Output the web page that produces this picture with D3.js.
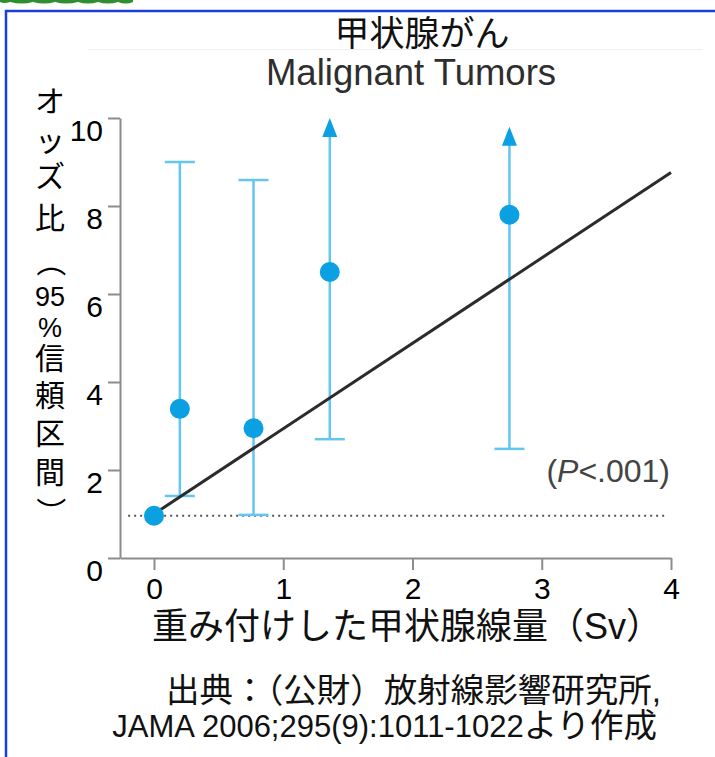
<!DOCTYPE html>
<html>
<head>
<meta charset="utf-8">
<script src="https://cdn.jsdelivr.net/npm/d3@7"></script>
<style>
    body { margin: 0; background: #fff; }
    svg { display: block; }
    text { font-family: "Liberation Sans", Arial, "Noto Sans CJK JP", sans-serif; }
</style>
</head>
<body>
<div id="chart"></div>
<script>
// data
var doses = [0, 0.2, 0.77, 1.36, 2.75];          // weighted thyroid dose (Sv)
var oddsRatios = [0.96, 3.39, 2.95, 6.5, 7.8];
var ciLower = [null, 1.41, 0.98, 2.7, 2.48];
var ciUpper = [null, 9.0, 8.59, 10.0, 9.8];
var ciOpen = [false, false, false, true, true];  // upper bound beyond the plot -> arrow
var fitDose = [0, 4];
var fitOdds = [1.0, 8.76];
var referenceOdds = 0.96;
var xTicks = [0, 1, 2, 3, 4];
var yTicks = [0, 2, 4, 6, 8, 10];
var yLabelChars = ["オ", "ッ", "ズ", "比", "（", "95", "%", "信", "頼", "区", "間", "）"];
var yLabelRows = [101, 140, 176, 218, 262, 297, 328, 358, 395, 433, 472, 512];

var width = 715, height = 757;
var blueDot = "#0aa0e2", blueBar = "#62c6ee", axisGray = "#8c8c8c";

var svg = d3.select("#chart").append("svg")
    .attr("width", width)
    .attr("height", height);

// frame
svg.append("path")
    .attr("d", "M0,0 L133,0 L133,2 Q126,5 118,2 Q108,5 98,2 Q88,5 78,2 Q66,5 55,2 Q44,5 33,2 Q22,5 10,2 Q4,4 0,2 Z")
    .attr("fill", "#2f8f2f");
svg.append("path")
    .attr("d", "M6,757 L6,11 L715,11")
    .attr("fill", "none")
    .attr("stroke", "#1a3fd6")
    .attr("stroke-width", 2.5);
svg.append("line")
    .attr("x1", 88).attr("x2", 703)
    .attr("y1", 49.5).attr("y2", 49.5)
    .attr("stroke", "#efefef");

// titles
svg.append("text")
    .attr("x", 422).attr("y", 46)
    .attr("text-anchor", "middle")
    .attr("font-size", 35)
    .attr("fill", "#111")
    .text("甲状腺がん");
svg.append("text")
    .attr("x", 411).attr("y", 85)
    .attr("text-anchor", "middle")
    .attr("font-size", 36.5)
    .attr("fill", "#2e2e2e")
    .text("Malignant Tumors");

var x = d3.scaleLinear().domain([-0.263, 4]).range([120, 671]);
var y = d3.scaleLinear().domain([0, 10]).range([558, 118]);

// axes
var xAxis = svg.append("g")
    .attr("transform", "translate(0," + y(0) + ")")
    .call(d3.axisBottom(x).tickValues(xTicks).tickFormat(d3.format("d"))
        .tickSize(12).tickSizeOuter(0).tickPadding(8));
var yAxis = svg.append("g")
    .attr("transform", "translate(" + x.range()[0] + ",0)")
    .call(d3.axisLeft(y).tickValues(yTicks).tickFormat(d3.format("d"))
        .tickSize(12).tickSizeOuter(0).tickPadding(5));

[xAxis, yAxis].forEach(function (ax) {
    ax.select(".domain").attr("stroke", axisGray).attr("stroke-width", 2);
    ax.selectAll(".tick line").attr("stroke", axisGray).attr("stroke-width", 2);
    ax.selectAll(".tick text")
        .attr("fill", "#000")
        .attr("font-size", 30)
        .style("font-family", "'Liberation Sans', Arial, sans-serif");
});
yAxis.selectAll(".tick text").attr("dy", "0.74em");

// reference line at OR = 1
svg.append("line")
    .attr("x1", x(-0.2)).attr("x2", x(3.97))
    .attr("y1", y(referenceOdds)).attr("y2", y(referenceOdds))
    .attr("stroke", "#555")
    .attr("stroke-width", 2)
    .attr("stroke-dasharray", "2,4");

svg.append("text")
    .attr("x", 670).attr("y", 482)
    .attr("text-anchor", "end")
    .attr("font-size", 32)
    .attr("fill", "#444")
    .call(function (t) {
        t.append("tspan").text("(");
        t.append("tspan").attr("font-style", "italic").text("P");
        t.append("tspan").text("<.001)");
    });

// error bars
var points = doses.map(function (d, i) {
    return {dose: d, or: oddsRatios[i], lo: ciLower[i], hi: ciUpper[i], open: ciOpen[i]};
});
var bars = svg.append("g").attr("class", "error-bars")
    .selectAll("g").data(points.filter(function (d) { return d.lo != null; }))
    .enter().append("g");

bars.append("line")
    .attr("x1", function (d) { return x(d.dose); })
    .attr("x2", function (d) { return x(d.dose); })
    .attr("y1", function (d) { return y(d.lo); })
    .attr("y2", function (d) { return d.open ? y(d.hi) + 18 : y(d.hi); })
    .attr("stroke", blueBar)
    .attr("stroke-width", 2.5);
bars.append("line")
    .attr("x1", function (d) { return x(d.dose) - 15; })
    .attr("x2", function (d) { return x(d.dose) + 15; })
    .attr("y1", function (d) { return y(d.lo); })
    .attr("y2", function (d) { return y(d.lo); })
    .attr("stroke", blueBar)
    .attr("stroke-width", 2.5);
bars.filter(function (d) { return !d.open; }).append("line")
    .attr("x1", function (d) { return x(d.dose) - 15; })
    .attr("x2", function (d) { return x(d.dose) + 15; })
    .attr("y1", function (d) { return y(d.hi); })
    .attr("y2", function (d) { return y(d.hi); })
    .attr("stroke", blueBar)
    .attr("stroke-width", 2.5);
bars.filter(function (d) { return d.open; }).append("path")
    .attr("d", function (d) {
        var cx = x(d.dose), ty = y(d.hi);
        return "M" + cx + "," + ty + " L" + (cx + 7.5) + "," + (ty + 19) + " L" + (cx - 7.5) + "," + (ty + 19) + " Z";
    })
    .attr("fill", blueDot);

// fitted linear trend
var line = d3.line()
    .x(function (d) { return x(d[0]); })
    .y(function (d) { return y(d[1]); });
svg.append("path")
    .attr("d", line(fitDose.map(function (d, i) { return [d, fitOdds[i]]; })))
    .attr("fill", "none")
    .attr("stroke", "#2b2b2b")
    .attr("stroke-width", 3);

// point estimates
svg.append("g").selectAll("circle").data(points)
    .enter().append("circle")
    .attr("cx", function (d) { return x(d.dose); })
    .attr("cy", function (d) { return y(d.or); })
    .attr("r", 10)
    .attr("fill", blueDot);

// axis title, stacked vertically; the full-width brackets are turned a quarter
var yLabel = svg.append("g").attr("class", "y-title");
yLabelChars.forEach(function (c, i) {
    var bracket = c === "（" || c === "）";
    var latin = c === "95" || c === "%";
    var t = yLabel.append("text")
        .attr("text-anchor", "middle")
        .attr("dominant-baseline", "central")
        .attr("font-size", latin ? 27 : 30)
        .attr("fill", "#000")
        .text(c);
    if (bracket) {
        t.attr("transform", "translate(50," + yLabelRows[i] + ") rotate(90)");
    } else {
        t.attr("x", 50).attr("y", yLabelRows[i]);
    }
});

svg.append("text")
    .attr("x", 407).attr("y", 639)
    .attr("text-anchor", "middle")
    .attr("font-size", 36)
    .attr("fill", "#111")
    .text("重み付けした甲状腺線量（Sv）");

// source
svg.append("text")
    .attr("x", 661).attr("y", 702)
    .attr("text-anchor", "end")
    .attr("font-size", 33.5)
    .attr("fill", "#111")
    .text("出典：（公財）放射線影響研究所,");
svg.append("text")
    .attr("x", 657).attr("y", 737)
    .attr("text-anchor", "end")
    .attr("font-size", 31)
    .attr("fill", "#111")
    .call(function (t) {
        t.append("tspan").text("JAMA 2006;295(9):1011-1022");
        t.append("tspan").attr("font-size", 33.5).text("より作成");
    });
</script>
</body>
</html>
